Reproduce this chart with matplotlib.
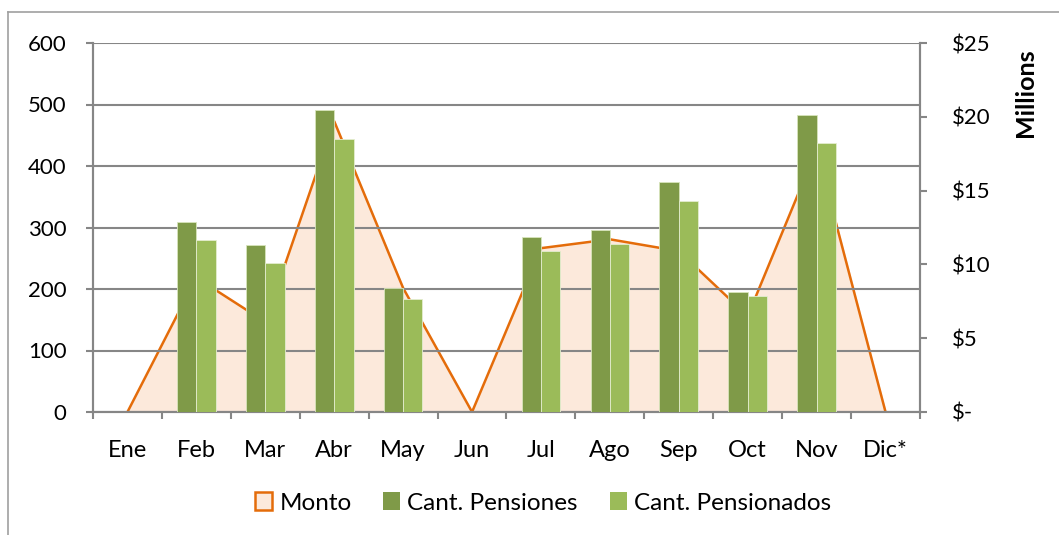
import numpy as np
import matplotlib.pyplot as plt
from matplotlib.patches import Patch

plt.rcParams['font.family'] = ['Lato', 'DejaVu Sans']

meses = ["Ene", "Feb", "Mar", "Abr", "May", "Jun", "Jul", "Ago", "Sep", "Oct", "Nov", "Dic*"]
monto = [0, 9.1, 6.1, 19.7, 8.4, 0, 11.1, 11.7, 10.9, 6.5, 17.8, 0]  # millones
pensiones = [0, 309, 271, 491, 202, 0, 285, 296, 374, 195, 483, 0]
pensionados = [0, 280, 242, 444, 184, 0, 262, 273, 343, 189, 437, 0]

right_ticks = [0, 5, 10, 15, 20, 25]
right_labels = ["$-", "$5", "$10", "$15", "$20", "$25"]

grey = "#868686"
c_dark = "#7F9A48"
c_light = "#9BBB59"
c_fill = "#FCE9DB"
c_line = "#E46C0A"

fig = plt.figure(figsize=(10.59, 5.35), dpi=100)
ax = fig.add_axes([93 / 1059, 1 - 412 / 535, 827 / 1059, 369 / 535])
ax2 = ax.twinx()

x = np.arange(len(meses))

# area (right axis) drawn behind the bars
ax2.fill_between(x, monto, color=c_fill, zorder=1)
ax2.plot(x, monto, color=c_line, lw=1.8, zorder=2)
ax2.set_ylim(0, 25)
ax2.set_zorder(1)
ax.set_zorder(2)
ax.patch.set_visible(False)

w = 0.28
ax.bar(x - w / 2, pensiones, w, color=c_dark, edgecolor="#d8e4bc", lw=0.6, zorder=3)
ax.bar(x + w / 2, pensionados, w, color=c_light, edgecolor="#e4edd0", lw=0.6, zorder=3)

ax.set_xlim(-0.5, len(meses) - 0.5)
ax.set_ylim(0, 600)
ax.set_yticks(np.arange(0, 601, 100))
ax.yaxis.grid(True, color=grey, lw=1.5, zorder=0)
ax.set_xticks(x)
ax.set_xticklabels(meses)
ax.set_xticks(np.arange(-0.5, len(meses)), minor=True)
ax.tick_params(axis="x", which="major", length=0, pad=20, labelsize=17)
ax.tick_params(axis="x", which="minor", length=5, width=1.5, color=grey, direction="out")
ax.tick_params(axis="y", length=5, width=1.5, color=grey, labelsize=16, pad=14)

ax2.set_yticks(right_ticks)
ax2.set_yticklabels(right_labels)
ax2.tick_params(axis="y", length=5, width=1.5, color=grey, labelsize=16, pad=18)

for a in (ax, ax2):
    for s in a.spines.values():
        s.set_color(grey)
        s.set_linewidth(1.5)
    a.spines["top"].set_visible(False)

ax2.text(1.128, 0.865, "Millions", transform=ax.transAxes, rotation=90,
         fontsize=18, fontweight="bold", ha="center", va="center")

handles = [Patch(facecolor=c_fill, edgecolor=c_line, lw=1.8, label="Monto"),
           Patch(facecolor=c_dark, label="Cant. Pensiones"),
           Patch(facecolor=c_light, label="Cant. Pensionados")]
fig.legend(handles=handles, loc="center", bbox_to_anchor=(543 / 1059, 1 - 503 / 535), ncol=3,
           frameon=False, fontsize=17.5, handlelength=0.7, handleheight=0.7,
           handletextpad=0.3, columnspacing=1.3)

# chart area border (partially cut off in original)
fig.add_artist(plt.Line2D([8 / 1059, 8 / 1059], [0, 1 - 12 / 535], color="#a0a0a0", lw=1.2))
fig.add_artist(plt.Line2D([8 / 1059, 1], [1 - 12 / 535, 1 - 12 / 535], color="#a0a0a0", lw=1.2))

fig.savefig("out.png", dpi=100)
